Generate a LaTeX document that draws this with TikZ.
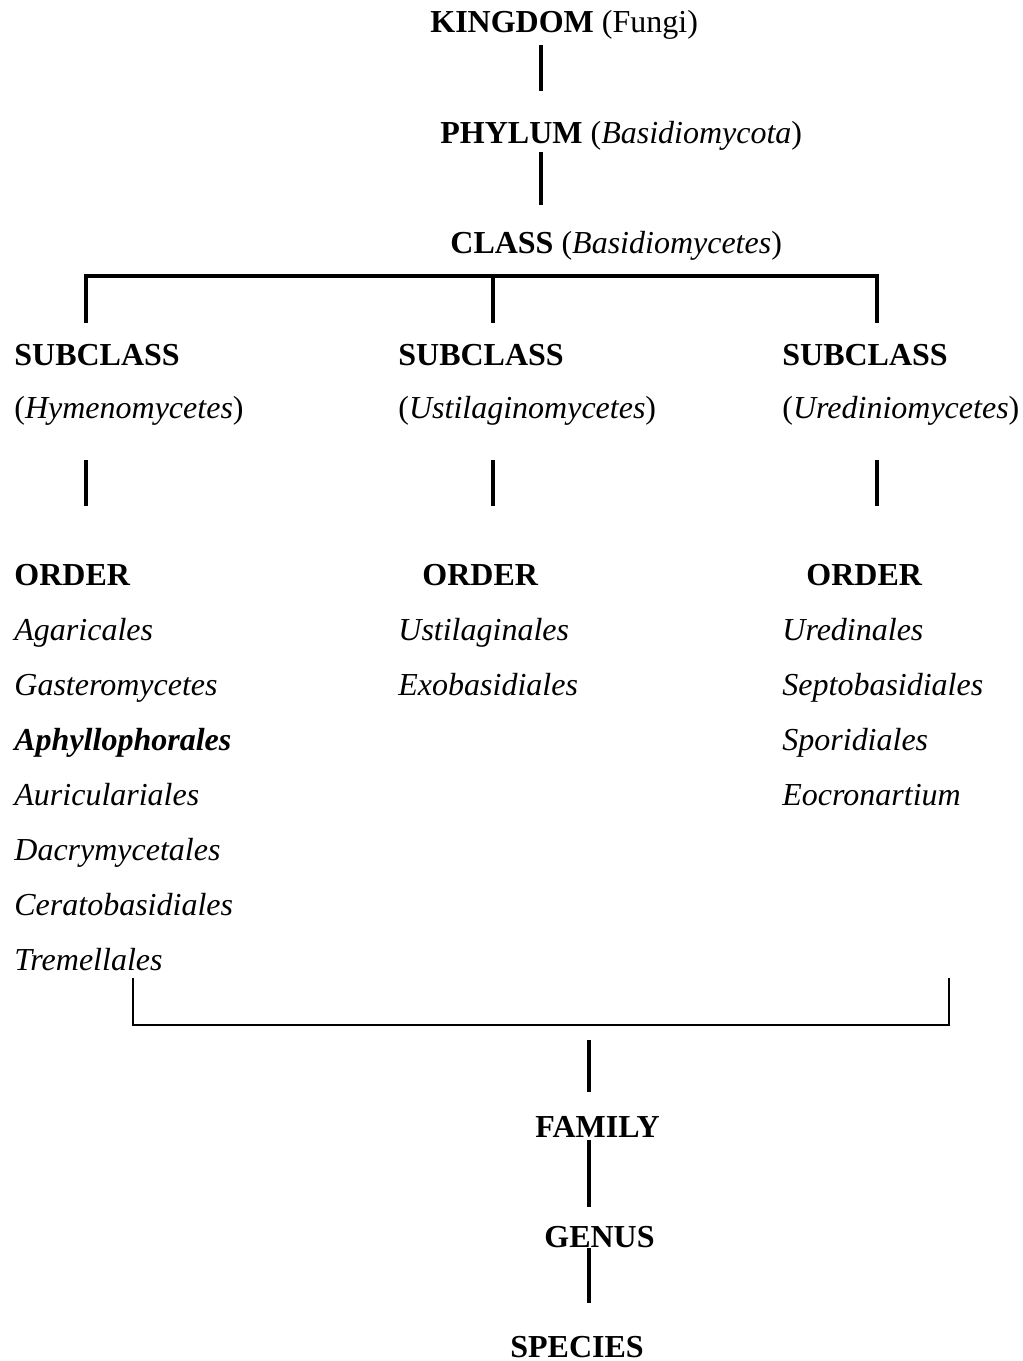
\documentclass[tikz,border=0pt]{standalone}
\usepackage{fontspec}
\setmainfont{Liberation Serif}
\usetikzlibrary{positioning}

\begin{document}
\begin{tikzpicture}[x=0.5pt,y=-0.5pt,
  rank/.style={anchor=base west,inner sep=0pt,font=\fontsize{16}{19}\selectfont},
  taxon/.style={rank,font=\fontsize{16}{19}\selectfont\itshape},
  stem/.style={line width=1.8pt},
  brace/.style={line width=0.75pt}]
\useasboundingbox (0,0) rectangle (1023,1361);

% upper ranks
\node[rank] (kingdom) at (430,32) {\textbf{KINGDOM} (Fungi)};
\node[rank] (phylum) at (440,143) {\textbf{PHYLUM} (\textit{Basidiomycota})};
\node[rank] (class) at (450,253) {\textbf{CLASS} (\textit{Basidiomycetes})};

% subclasses
\node[rank] (sub1) at (14,365) {\textbf{SUBCLASS}};
\node[rank] (sub1n) at (14,418) {(\textit{Hymenomycetes})};
\node[rank] (sub2) at (398,365) {\textbf{SUBCLASS}};
\node[rank] (sub2n) at (398,418) {(\textit{Ustilaginomycetes})};
\node[rank] (sub3) at (782,365) {\textbf{SUBCLASS}};
\node[rank] (sub3n) at (782,418) {(\textit{Urediniomycetes})};

% orders
\node[rank] (ord1) at (14,585) {\textbf{ORDER}};
\node[rank] (ord2) at (422,585) {\textbf{ORDER}};
\node[rank] (ord3) at (806,585) {\textbf{ORDER}};
\foreach \name [count=\i] in {Agaricales,Gasteromycetes,\textbf{Aphyllophorales},
  Auriculariales,Dacrymycetales,Ceratobasidiales,Tremellales}
  \node[taxon] (ordA-\i) at (14,585+55*\i) {\name};
\foreach \name [count=\i] in {Ustilaginales,Exobasidiales}
  \node[taxon] (ordB-\i) at (398,585+55*\i) {\name};
\foreach \name [count=\i] in {Uredinales,Septobasidiales,Sporidiales,Eocronartium}
  \node[taxon] (ordC-\i) at (782,585+55*\i) {\name};

% lower ranks
\node[rank] (family) at (535,1137) {\textbf{FAMILY}};
\node[rank] (genus) at (544,1247) {\textbf{GENUS}};
\node[rank] (species) at (510,1357) {\textbf{SPECIES}};

% junction points
\coordinate (k1) at (541,45);   \coordinate (k2) at (541,91);
\coordinate (p1) at (541,152);  \coordinate (p2) at (541,205);
\coordinate (c0) at (493,276);
\coordinate (s1) at (86,323);   \coordinate (s2) at (493,323);  \coordinate (s3) at (877,323);
\coordinate (d1a) at (86,460);  \coordinate (d1b) at (86,506);
\coordinate (d2a) at (493,460); \coordinate (d2b) at (493,506);
\coordinate (d3a) at (877,460); \coordinate (d3b) at (877,506);
\coordinate (bL) at (133,978);  \coordinate (bR) at (949,978);
\coordinate (bM) at (589,1025);
\coordinate (f1) at (589,1040); \coordinate (f2) at (589,1092);
\coordinate (g1) at (589,1140); \coordinate (g2) at (589,1207);
\coordinate (h1) at (589,1248); \coordinate (h2) at (589,1303);

\draw[stem] (k1) -- (k2);
\draw[stem] (p1) -- (p2);
\draw[stem] (s1) -- (s1 |- c0) -- (s3 |- c0) -- (s3);
\draw[stem] (c0) -- (s2);
\draw[stem] (d1a) -- (d1b);
\draw[stem] (d2a) -- (d2b);
\draw[stem] (d3a) -- (d3b);
\draw[brace] (bL) -- (bL |- bM) -- (bR |- bM) -- (bR);
\draw[stem] (f1) -- (f2);
\draw[stem] (g1) -- (g2);
\draw[stem] (h1) -- (h2);
\end{tikzpicture}
\end{document}
